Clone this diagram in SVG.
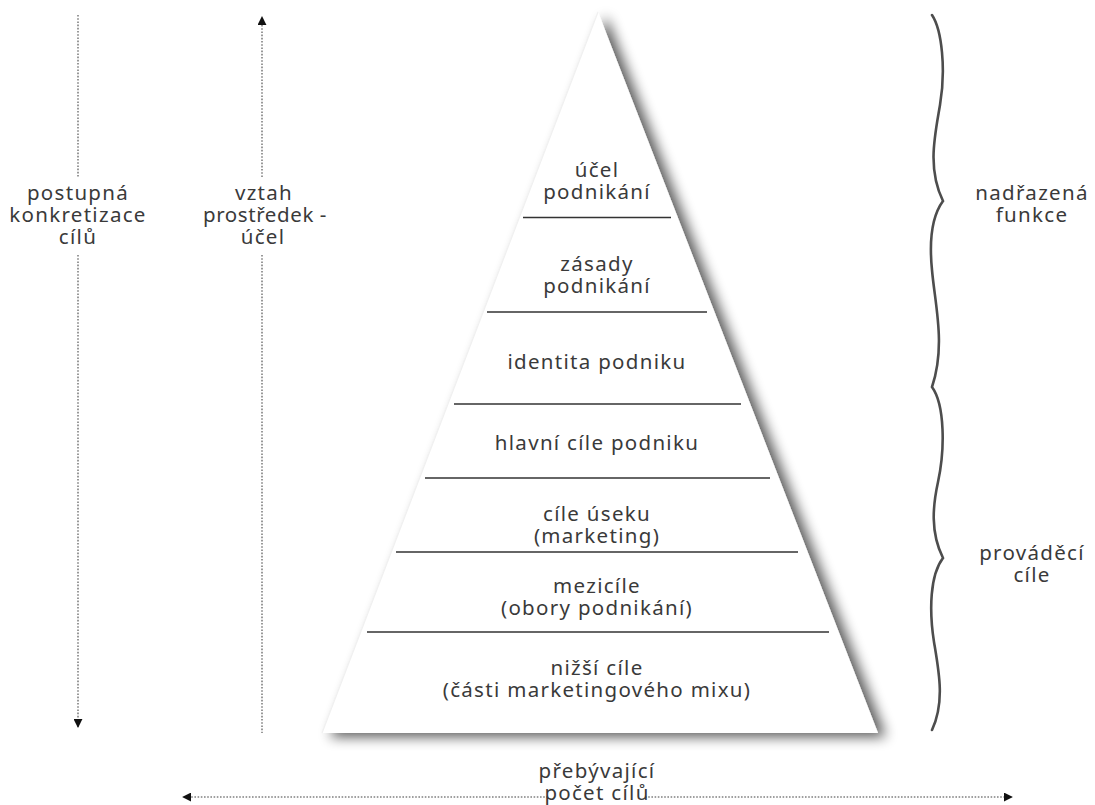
<svg xmlns="http://www.w3.org/2000/svg" width="1095" height="805" viewBox="0 0 1095 805">
  <style>
    .t { font-family: "Noto Sans", "Open Sans", "DejaVu Sans", sans-serif; font-size: 20.5px; letter-spacing: 1.3px; fill: #3a3a3a; text-anchor: middle; }
    .sep { stroke: #333; stroke-width: 1.5; }
    .dot { stroke: #808080; stroke-width: 1.6; stroke-dasharray: 1.6 1.6; fill: none; }
    .brace { stroke: #4d4d4d; stroke-width: 2.6; fill: none; stroke-linecap: round; stroke-linejoin: miter; }
  </style>
  <defs>
    <filter id="pyrShadow" x="-10%" y="-10%" width="130%" height="125%">
      <feGaussianBlur in="SourceAlpha" stdDeviation="6.5"/>
      <feOffset dx="8" dy="4" result="blur"/>
      <feComponentTransfer><feFuncA type="linear" slope="0.65"/></feComponentTransfer>
      <feMerge><feMergeNode/><feMergeNode in="SourceGraphic"/></feMerge>
    </filter>
    <marker id="head" viewBox="0 0 10 10" refX="9" refY="5" markerWidth="9" markerHeight="9" markerUnits="userSpaceOnUse" orient="auto">
      <path d="M0,0 L10,5 L0,10 z" fill="#111"/>
    </marker>
  </defs>

  <rect width="1095" height="805" fill="#fff"/>

  <!-- pyramid body with the level separators -->
  <g id="pyramid">
    <polygon points="598,12 322,733 878,733" fill="#fff" filter="url(#pyrShadow)"/>
    <line x1="598" y1="12" x2="322" y2="733" stroke="#f0f0f0" stroke-width="1.2"/>
    <line class="sep" x1="523" y1="217.5" x2="671" y2="217.5"/>
    <line class="sep" x1="487" y1="312" x2="707" y2="312"/>
    <line class="sep" x1="454" y1="404" x2="741" y2="404"/>
    <line class="sep" x1="425" y1="478" x2="770" y2="478"/>
    <line class="sep" x1="396" y1="552" x2="798" y2="552"/>
    <line class="sep" x1="367" y1="632" x2="829" y2="632"/>
  </g>

  <g id="level-ucel">
    <text class="t" x="597" y="177">účel<tspan x="597" dy="22">podnikání</tspan></text>
  </g>
  <g id="level-zasady">
    <text class="t" x="597" y="271">zásady<tspan x="597" dy="22">podnikání</tspan></text>
  </g>
  <g id="level-identita">
    <text class="t" x="597" y="369">identita podniku</text>
  </g>
  <g id="level-hlavni">
    <text class="t" x="597" y="450">hlavní cíle podniku</text>
  </g>
  <g id="level-useku">
    <text class="t" x="597" y="521">cíle úseku<tspan x="597" dy="22">(marketing)</tspan></text>
  </g>
  <g id="level-mezicile">
    <text class="t" x="597" y="593">mezicíle<tspan x="597" dy="22">(obory podnikání)</tspan></text>
  </g>
  <g id="level-nizsi">
    <text class="t" x="597" y="675">nižší cíle<tspan x="597" dy="22">(části marketingového mixu)</tspan></text>
  </g>

  <!-- dotted connectors -->
  <g id="connectors">
    <line class="dot" x1="78" y1="15" x2="78" y2="177"/>
    <line class="dot" x1="78" y1="255" x2="78" y2="727" marker-end="url(#head)"/>
    <line class="dot" x1="262" y1="177" x2="262" y2="17" marker-end="url(#head)"/>
    <line class="dot" x1="262" y1="255" x2="262" y2="733"/>
    <line class="dot" x1="548" y1="797" x2="183" y2="797" marker-end="url(#head)"/>
    <line class="dot" x1="645" y1="797" x2="1012" y2="797" marker-end="url(#head)"/>
  </g>

  <g id="label-konkretizace">
    <text class="t" x="78" y="200">postupná<tspan x="78" dy="22">konkretizace</tspan><tspan x="78" dy="22">cílů</tspan></text>
  </g>
  <g id="label-vztah">
    <text class="t" x="264" y="200">vztah<tspan x="265" dy="22" style="letter-spacing:0.6px">prostředek -</tspan><tspan x="263" dy="22">účel</tspan></text>
  </g>
  <g id="label-pocet">
    <text class="t" x="597" y="778">přebývající<tspan x="597" dy="22">počet cílů</tspan></text>
  </g>

  <!-- braces on the right -->
  <g id="brace">
    <path class="brace" d="M932,15 C942,30 946,70 940,105 C935,135 927,168 943,201 C932,216 929,240 932,270 C935,305 946,345 932,387 C945,405 945,450 938,482 C933,505 930,532 943,558 C930,575 929,610 934,642 C939,672 945,702 932,730"/>
  </g>
  <g id="label-nadrazena">
    <text class="t" x="1032" y="200">nadřazená<tspan x="1032" dy="22">funkce</tspan></text>
  </g>
  <g id="label-provadeci">
    <text class="t" x="1032" y="560">prováděcí<tspan x="1032" dy="22">cíle</tspan></text>
  </g>
</svg>
